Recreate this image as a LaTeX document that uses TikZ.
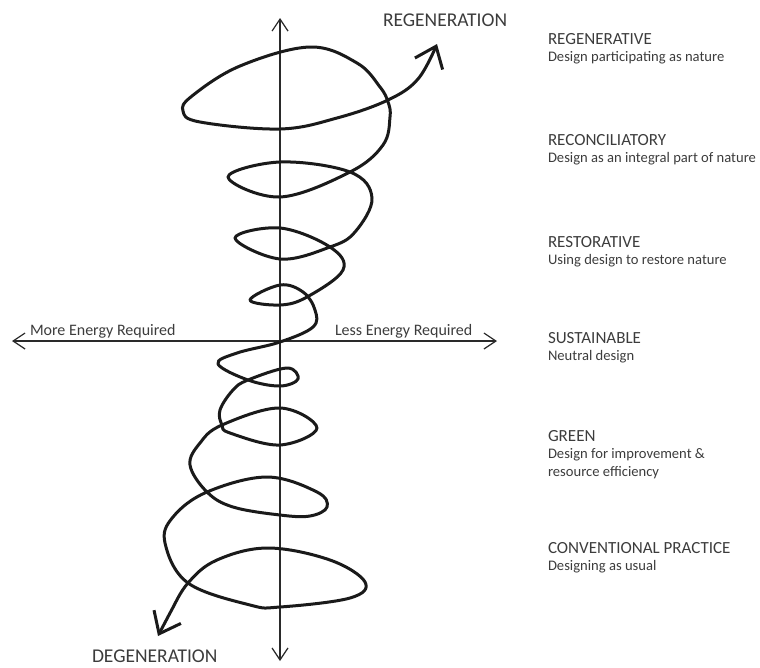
\documentclass[tikz,border=0pt]{standalone}
\usepackage{fontspec}
\setmainfont{Carlito}
\usetikzlibrary{arrows.meta}
\definecolor{textgray}{HTML}{3C3C3C}
\definecolor{axisgray}{HTML}{2A2A2A}
\definecolor{inkblack}{HTML}{1A1A1A}

\begin{document}
\begin{tikzpicture}[x=1pt,y=-1pt]
  \tikzstyle{every node}=[text=textgray,inner sep=0pt,outer sep=0pt]
  \tikzstyle{head}=[anchor=base west,font=\fontsize{17}{20}\selectfont]
  \tikzstyle{desc}=[anchor=north west,font=\fontsize{14.6}{18.5}\selectfont,align=left]
  \tikzstyle{energy}=[anchor=base west,font=\fontsize{16}{19}\selectfont]
  \tikzstyle{pole}=[anchor=base west,font=\fontsize{19.5}{22}\selectfont]
  \tikzstyle{axis}=[line width=1.2pt,draw=axisgray,
    {Straight Barb[length=12pt,width=16pt]}-{Straight Barb[length=12pt,width=16pt]}]
  \tikzstyle{spiral}=[line width=3pt,draw=inkblack,line join=round,
    {Straight Barb[length=19pt,width=30pt]}-{Straight Barb[length=19pt,width=30pt]}]
  \useasboundingbox (0,0) rectangle (760,667);
% axes
  \coordinate (up)    at (280,18);
  \coordinate (down)  at (280,661);
  \coordinate (left)  at (12,341);
  \coordinate (right) at (497,341);
  \draw[axis] (down) -- (up);
  \draw[axis] (left) -- (right);
  \node[energy] (more) at (30,335)  {More Energy Required};
  \node[energy] (less) at (335,335) {Less Energy Required};
  \node[pole] (regeneration) at (383,26)  {REGENERATION};
  \node[pole] (degeneration) at (92,662)  {DEGENERATION};
% levels on the right
  \foreach \lvl/\ypos/\name/\text in {
      regenerative/44/REGENERATIVE/Design participating as nature,
      reconciliatory/145/RECONCILIATORY/Design as an integral part of nature,
      restorative/247/RESTORATIVE/Using design to restore nature,
      sustainable/343/SUSTAINABLE/Neutral design,
      green/441/GREEN/Design for improvement \&\\resource efficiency,
      conventional/553/CONVENTIONAL PRACTICE/Designing as usual}{
    \node[head] (\lvl) at (548,\ypos) {\name};
    \node[desc] (\lvl_desc) at ([yshift=-7pt]\lvl.base west) {\text};
  }
% the spiral, from degeneration up to regeneration
  \draw[spiral] plot[smooth,tension=0.62] coordinates {
    (158,636) (170,613) (188,583) (217,560) (268,548) (330,560) (365,582)
    (350,598) (280,607) (250,605) (188,583) (165,543) (173,517) (207,492)
    (267,477) (317,492) (327,507) (310,516) (280,515) (233,507) (207,492)
    (190,465) (200,443) (222,425) (280,408) (317,428) (280,445) (230,433)
    (222,425) (220,410) (233,390) (248,380) (287,368) (298,379) (280,386)
    (248,380) (218,364) (237,353) (280,342) (313,327) (315,310) (303,292)
    (280,285) (250,300) (280,305) (307,297) (343,270) (330,247) (280,228)
    (235,238) (280,259) (330,247) (355,232) (372,198) (350,172) (280,162)
    (228,177) (280,197) (350,172) (383,145) (390,117) (388,102) (380,87)
    (357,63) (310,47) (240,66) (192,96) (183,111) (200,122) (280,129)
    (337,118) (388,100) (418,79) (437,44)};
\end{tikzpicture}
\end{document}
